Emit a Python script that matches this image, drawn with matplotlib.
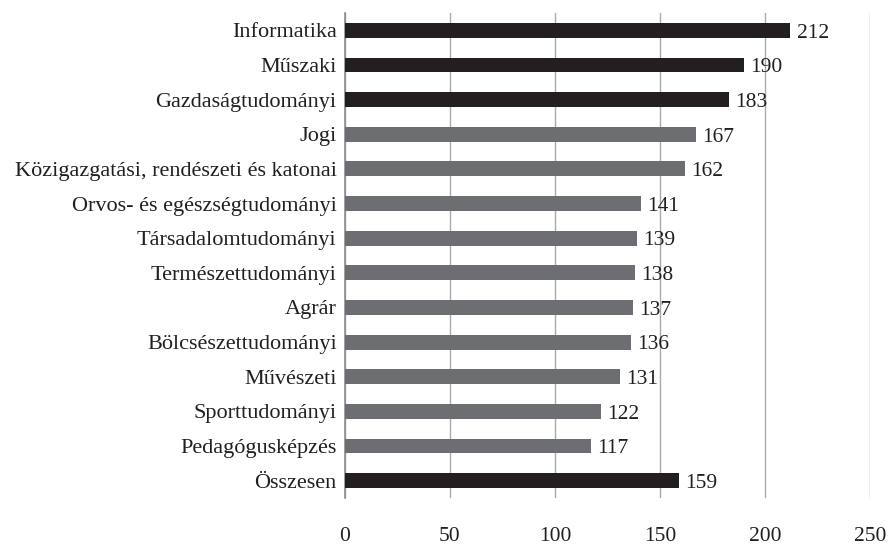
import matplotlib
matplotlib.use("Agg")
import matplotlib.pyplot as plt

categories = ["Informatika", "Műszaki", "Gazdaságtudományi", "Jogi",
              "Közigazgatási, rendészeti és katonai", "Orvos- és egészségtudományi",
              "Társadalomtudományi", "Természettudományi", "Agrár",
              "Bölcsészettudományi", "Művészeti", "Sporttudományi",
              "Pedagógusképzés", "Összesen"]
values = [212, 190, 183, 167, 162, 141, 139, 138, 137, 136, 131, 122, 117, 159]
highlight = [True, True, True, False, False, False, False, False, False, False,
             False, False, False, True]
xticks = [0, 50, 100, 150, 200, 250]

plt.rcParams['font.family'] = ['Liberation Serif', 'DejaVu Serif']

fig = plt.figure(figsize=(8.91, 5.49), dpi=100)
ax = fig.add_axes([345/891, 1-498/549, 525/891, 485/549])

dark = "#231f20"
gray = "#6d6e71"
colors = [dark if h else gray for h in highlight]
ypos = list(range(len(categories)))
ax.barh(ypos, values, height=0.43, color=colors, zorder=3)
ax.set_ylim(len(categories)-0.5, -0.5)
ax.set_xlim(0, 250)
ax.set_xticks(xticks)
ax.set_xticklabels([str(t) for t in xticks], fontsize=15.5, color="#231f20")
ax.set_yticks(ypos)
ax.set_yticklabels(categories, fontsize=16, color="#231f20")
ax.tick_params(axis='x', length=0, pad=21)
ax.tick_params(axis='y', length=0, pad=6)
ax.grid(axis='x', color="#a7a9ac", linewidth=1.0, zorder=0)
for s in ['top', 'right', 'bottom']:
    ax.spines[s].set_visible(False)
ax.spines['left'].set_color("#8a8c8e")
ax.spines['left'].set_linewidth(1.2)
for y, v in zip(ypos, values):
    ax.text(v + 3, y + 0.08, str(v), va='center', ha='left', fontsize=15.5,
            color="#231f20", zorder=4)

fig.savefig("out.png", dpi=100)
